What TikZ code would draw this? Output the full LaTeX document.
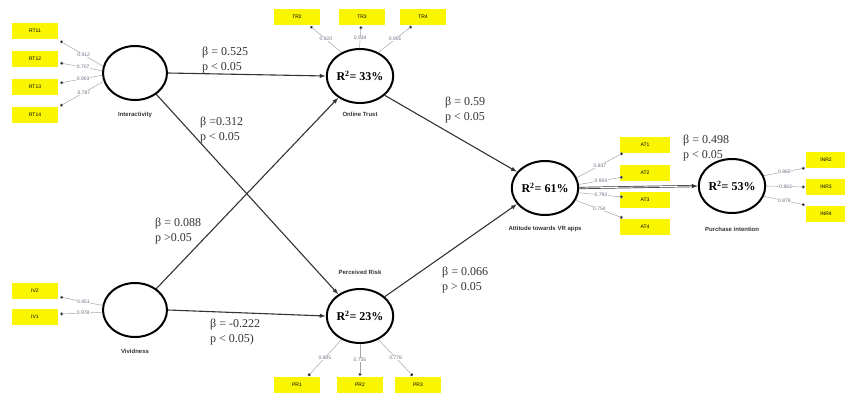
\documentclass[tikz,border=0pt]{standalone}
\usepackage{fontspec}
\setmainfont{Liberation Serif}
\newfontfamily\smallsans{Liberation Sans}
\usetikzlibrary{shapes.geometric,arrows.meta}
\definecolor{boxyellow}{RGB}{250,245,0}
\definecolor{loadgray}{RGB}{110,110,130}
\tikzset{
  lv/.style={ellipse,draw=black,line width=2pt,minimum width=64pt,minimum height=54pt,inner sep=0pt,
    font=\fontsize{12}{13}\selectfont\bfseries},
  ind/.style={rectangle,fill=boxyellow,minimum width=46pt,minimum height=16pt,inner sep=0pt,
    font=\smallsans\fontsize{5}{6}\selectfont},
  lvname/.style={font=\smallsans\fontsize{6}{7}\selectfont\bfseries,text=black!80},
  load/.style={-{Circle[length=3.5pt,fill=black]},draw=gray!70,line width=0.5pt},
  loadlab/.style={font=\smallsans\fontsize{5}{6}\selectfont,text=loadgray,fill=white,inner sep=0.5pt},
  path/.style={-{Latex[length=6pt,width=4.5pt]},draw=black!80,line width=1.1pt},
  coef/.style={anchor=west,align=left,font=\fontsize{12}{14.5}\selectfont,text=black!80,inner sep=0pt}
}
\begin{document}
\begin{tikzpicture}[x=1pt,y=-1pt]
\useasboundingbox (0,0) rectangle (845,394);
% latent variables
\node[lv] (int) at (135,73) {};
\node[lv] (ot) at (360,76) {R\textsuperscript{2}= 33\%};
\node[lv] (viv) at (135,310) {};
\node[lv] (pr) at (360,316) {R\textsuperscript{2}= 23\%};
\node[lv] (att) at (545,188) {R\textsuperscript{2}= 61\%};
\node[lv,minimum width=60pt] (pi) at (732,186) {R\textsuperscript{2}= 53\%};
% names
\node[lvname] (intn) at (135,115) {Interactivity};
\node[lvname] (otn) at (360,114) {Online Trust};
\node[lvname] (vivn) at (135,351) {Vividness};
\node[lvname] (prn) at (360,272) {Perceived Risk};
\node[lvname] (attn) at (545,229) {Attitude towards VR apps};
\node[lvname] (pin) at (732,229) {Purchase intention};
% indicator boxes
\node[ind] (rt11) at (35,31) {RT11};
\node[ind] (rt12) at (35,59) {RT12};
\node[ind] (rt13) at (35,87) {RT13};
\node[ind] (rt14) at (35,115) {RT14};
\node[ind] (iv2) at (35,291) {IV2};
\node[ind] (iv1) at (35,317) {IV1};
\node[ind] (tr2) at (297,17) {TR2};
\node[ind] (tr3) at (362,17) {TR3};
\node[ind] (tr4) at (423,17) {TR4};
\node[ind] (pr1) at (297,385) {PR1};
\node[ind] (pr2) at (360,385) {PR2};
\node[ind] (pr3) at (418,385) {PR3};
\node[ind,minimum width=50pt] (at1) at (645,145) {AT1};
\node[ind,minimum width=50pt] (at2) at (645,173) {AT2};
\node[ind,minimum width=50pt] (at3) at (645,200) {AT3};
\node[ind,minimum width=50pt] (at4) at (645,227) {AT4};
\node[ind,minimum width=40pt] (in2) at (826,160) {INR2};
\node[ind,minimum width=40pt] (in3) at (826,187) {INR3};
\node[ind,minimum width=40pt] (in4) at (826,214) {INR4};
% loadings
\coordinate (e11) at (60,41);
\coordinate (e12) at (60,63);
\coordinate (e13) at (60,83);
\coordinate (e14) at (60,106);
\draw[load] (int.168) -- node[loadlab,pos=0.45]{0.912} (e11);
\draw[load] (int.176) -- node[loadlab,pos=0.45]{0.707} (e12);
\draw[load] (int.184) -- node[loadlab,pos=0.45]{0.903} (e13);
\draw[load] (int.195) -- node[loadlab,pos=0.45]{0.787} (e14);
\coordinate (ev2) at (60,297);
\coordinate (ev1) at (60,314);
\draw[load] (viv.172) -- node[loadlab,pos=0.45]{0.951} (ev2);
\draw[load] (viv.184) -- node[loadlab,pos=0.45]{0.978} (ev1);
\coordinate (et2) at (310,26);
\coordinate (et3) at (361,26);
\coordinate (et4) at (412,26);
\draw[load] (ot.128) -- node[loadlab,pos=0.5]{0.920} (et2);
\draw[load] (ot.91) -- node[loadlab,pos=0.45]{0.934} (et3);
\draw[load] (ot.52) -- node[loadlab,pos=0.5]{0.901} (et4);
\coordinate (ep1) at (308,376);
\coordinate (ep2) at (360,376);
\coordinate (ep3) at (413,376);
\draw[load] (pr.232) -- node[loadlab,pos=0.5]{0.885} (ep1);
\draw[load] (pr.270) -- node[loadlab,pos=0.5]{0.735} (ep2);
\draw[load] (pr.308) -- node[loadlab,pos=0.5]{0.778} (ep3);
\coordinate (ea1) at (623,153);
\coordinate (ea2) at (623,177);
\coordinate (ea3) at (623,197);
\coordinate (ea4) at (623,218);
\draw[load] (att.18) -- node[loadlab,pos=0.5]{0.837} (ea1);
\draw[load] (att.6) -- node[loadlab,pos=0.5]{0.904} (ea2);
\draw[load] (att.-8) -- node[loadlab,pos=0.5]{0.793} (ea3);
\draw[load] (att.-22) -- node[loadlab,pos=0.5]{0.754} (ea4);
\coordinate (ei2) at (805,168);
\coordinate (ei3) at (805,187);
\coordinate (ei4) at (805,205);
\draw[load] (pi.18) -- node[loadlab,pos=0.5]{0.865} (ei2);
\draw[load] (pi.0) -- node[loadlab,pos=0.5]{0.863} (ei3);
\draw[load] (pi.-18) -- node[loadlab,pos=0.5]{0.879} (ei4);
% structural paths
\draw[path] (int.east) -- (ot.west);
\draw[path] (int.-45) -- (pr.135);
\draw[path] (viv.45) -- (ot.-135);
\draw[path] (viv.east) -- (pr.west);
\draw[path] (ot.-38) -- (att.150);
\draw[path] (pr.38) -- (att.-150);
\draw[path,double,double distance=0.8pt,line width=0.7pt] (att.east) -- (pi.west);
% coefficients
\node[coef] (c1) at (202,60) {β = 0.525\\p < 0.05};
\node[coef] (c2) at (200,130) {β =0.312\\p < 0.05};
\node[coef] (c3) at (155,231) {β = 0.088\\p >0.05};
\node[coef] (c4) at (210,332) {β = -0.222\\p < 0.05)};
\node[coef] (c5) at (445,110) {β = 0.59\\p < 0.05};
\node[coef] (c6) at (442,280) {β = 0.066\\p > 0.05};
\node[coef] (c7) at (683,148) {β = 0.498\\p < 0.05};
\end{tikzpicture}
\end{document}
